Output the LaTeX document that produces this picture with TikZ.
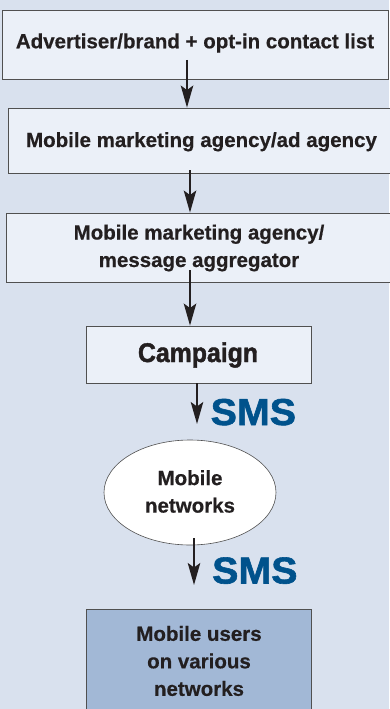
\documentclass[tikz,border=0pt]{standalone}
\usepackage{fontspec}
\setmainfont{Liberation Sans}[FakeBold=0.5]
\newfontfamily\condfont{Liberation Sans}[FakeStretch=0.92,FakeBold=1.6]
\newfontfamily\smsfont{Liberation Sans}[FakeStretch=1.05,FakeBold=1.6]
\usetikzlibrary{arrows.meta,shapes.geometric}
\definecolor{bgcol}{HTML}{D9E1EE}
\definecolor{boxfill}{HTML}{EBF0F8}
\definecolor{userfill}{HTML}{A2B8D6}
\definecolor{edgecol}{HTML}{505050}
\definecolor{txtcol}{HTML}{231F20}
\definecolor{smscol}{HTML}{00528C}
\begin{document}
\begin{tikzpicture}[x=1pt,y=-1pt,
  stepbox/.style={draw=edgecol,line width=0.9pt,fill=boxfill,rectangle,inner sep=0pt},
  lbl/.style={text=txtcol,font=\fontsize{20.5}{27.5}\selectfont\bfseries,align=center,inner sep=0pt},
  smslbl/.style={text=smscol,font=\fontsize{37.5}{38}\smsfont\bfseries,inner sep=0pt,anchor=base west},
  arr/.style={line width=1.8pt,draw=txtcol,-{Stealth[length=22pt,width=12.5pt,inset=4.5pt]}}]
\useasboundingbox (0,0) rectangle (389,709);
\fill[bgcol] (0,0) rectangle (389,709);
% boxes
\node[stepbox,minimum width=386pt,minimum height=69pt] (b1) at (195,44.5) {};
\node[stepbox,minimum width=384pt,minimum height=65pt] (b2) at (200,140.5) {};
\node[stepbox,minimum width=386pt,minimum height=69pt] (b3) at (199,247.5) {};
\node[stepbox,minimum width=225pt,minimum height=57pt] (b4) at (198.5,354.5) {};
\node[draw=edgecol,line width=0.6pt,fill=white,ellipse,minimum width=172pt,minimum height=105pt,inner sep=0pt] (net) at (190,492.5) {};
\node[draw=edgecol,line width=0.9pt,fill=userfill,rectangle,minimum width=225pt,minimum height=120pt,inner sep=0pt] (b5) at (198.5,669) {};
% texts
\node[lbl,anchor=base] (t1) at (195,48.3) {Advertiser/brand + opt-in contact list};
\node[lbl,anchor=base] (t2) at (201.5,147) {Mobile marketing agency/ad agency};
\node[lbl] (t3) at (199,248) {Mobile marketing agency/\\message aggregator};
\node[text=txtcol,font=\fontsize{27}{30}\condfont\bfseries,inner sep=0pt,anchor=base] (t4) at (198,362) {Campaign};
\node[lbl] (t5) at (190,491.5) {Mobile\\networks};
\node[lbl] (t6) at (199,661) {Mobile users\\on various\\networks};
\node[smslbl] (s1) at (210.5,425) {SMS};
\node[smslbl] (s2) at (212,583.5) {SMS};
% arrows
\coordinate (a1) at (187,60);
\coordinate (a2) at (190,170);
\coordinate (a3) at (190,270);
\coordinate (a4) at (197,383);
\coordinate (a4e) at (197,424);
\coordinate (a5) at (194,538);
\coordinate (a5e) at (194,585);
\draw[arr] (a1) -- (a1 |- b2.north);
\draw[arr] (a2) -- (a2 |- b3.north);
\draw[arr] (a3) -- (a3 |- b4.north);
\draw[arr] (a4) -- (a4e);
\draw[arr] (a5) -- (a5e);
\end{tikzpicture}
\end{document}
